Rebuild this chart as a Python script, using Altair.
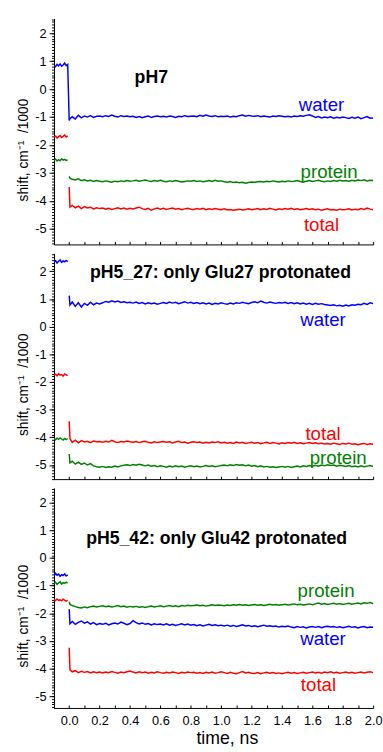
import numpy as np
import pandas as pd
import altair as alt

FONT = "Liberation Sans"

SPECIES = ["water", "protein", "total"]
COLORS = ["#0000ff", "#008000", "#ff0000"]

# sampling times (ns): before the pulse, then t=0 (first post value) and afterwards
PRE_T = np.round(np.linspace(-0.10, -0.01, 10), 3)
POST_T = np.concatenate([[0.0, 0.005], np.round(np.arange(1, 101) * 0.02, 3)])

# ---------------- pH7 ----------------
PH7_WATER_PRE = [0.84, 0.80, 0.88, 0.83, 0.90, 0.82, 0.86, 0.93, 0.84, 0.88]
PH7_WATER_POST = [
    -1.12,
    -1.06, -0.99, -1.07, -0.94, -1.03, -0.96, -1.00, -0.95, -1.01, -0.97, -0.96,
    -0.99, -0.95, -0.98, -0.93, -0.97, -1.00, -0.95, -0.98, -0.96, -0.99,
    -0.97, -1.01, -0.98, -1.02, -0.99, -0.96, -1.01, -0.98, -0.96, -0.99,
    -0.97, -1.00, -0.96, -0.98, -1.01, -0.97, -0.99, -0.95, -0.98, -0.97,
    -0.96, -0.99, -0.94, -0.97, -0.93, -0.96, -0.98, -0.95, -0.99, -0.97,
    -0.98, -0.96, -1.00, -0.97, -0.99, -0.95, -0.93, -0.97, -0.94, -0.96,
    -0.97, -0.95, -0.99, -0.96, -0.98, -1.00, -0.96, -0.98, -0.95, -0.97,
    -0.99, -0.97, -1.00, -0.96, -0.98, -0.95, -0.97, -0.94, -0.92, -0.96,
    -1.01, -0.98, -1.03, -1.00, -1.02, -0.99, -1.04, -1.01, -1.03, -1.00,
    -1.02, -1.05, -1.01, -1.04, -1.00, -1.06, -1.02, -0.98, -1.04, -1.03,
]
PH7_PROTEIN_PRE = [-2.55, -2.50, -2.57, -2.52, -2.56, -2.49, -2.54, -2.51, -2.55, -2.53]
PH7_PROTEIN_POST = [
    -3.12,
    -3.18, -3.22, -3.25, -3.21, -3.27, -3.24, -3.28, -3.26, -3.30, -3.27, -3.29,
    -3.31, -3.28, -3.30, -3.33, -3.29, -3.31, -3.28, -3.30, -3.27, -3.29,
    -3.28, -3.26, -3.29, -3.27, -3.25, -3.28, -3.30, -3.27, -3.29, -3.26,
    -3.29, -3.31, -3.28, -3.30, -3.27, -3.29, -3.32, -3.30, -3.28, -3.29,
    -3.27, -3.30, -3.28, -3.31, -3.29, -3.27, -3.30, -3.26, -3.29, -3.28,
    -3.31, -3.33, -3.30, -3.34, -3.32, -3.35, -3.33, -3.36, -3.34, -3.32,
    -3.33, -3.31, -3.30, -3.32, -3.29, -3.31, -3.28, -3.30, -3.32, -3.29,
    -3.31, -3.28, -3.30, -3.29, -3.27, -3.30, -3.33, -3.29, -3.27, -3.30,
    -3.28, -3.26, -3.29, -3.31, -3.28, -3.30, -3.27, -3.29, -3.26, -3.28,
    -3.27, -3.29, -3.26, -3.28, -3.25, -3.27, -3.24, -3.28, -3.26, -3.27,
]
PH7_TOTAL_PRE = [-1.72, -1.68, -1.75, -1.70, -1.66, -1.73, -1.69, -1.64, -1.71, -1.67]
PH7_TOTAL_POST = [
    -3.50,
    -4.22, -4.16, -4.24, -4.18, -4.27, -4.20, -4.25, -4.22, -4.28, -4.24, -4.27,
    -4.25, -4.29, -4.26, -4.30, -4.27, -4.24, -4.28, -4.25, -4.29, -4.26,
    -4.28, -4.25, -4.22, -4.27, -4.30, -4.26, -4.33, -4.28, -4.25, -4.29,
    -4.26, -4.30, -4.27, -4.25, -4.29, -4.27, -4.31, -4.28, -4.26, -4.29,
    -4.30, -4.27, -4.29, -4.26, -4.31, -4.28, -4.30, -4.27, -4.29, -4.31,
    -4.28, -4.32, -4.30, -4.33, -4.31, -4.29, -4.32, -4.30, -4.28, -4.31,
    -4.29, -4.27, -4.31, -4.28, -4.30, -4.26, -4.29, -4.32, -4.28, -4.30,
    -4.27, -4.29, -4.26, -4.30, -4.28, -4.31, -4.29, -4.27, -4.30, -4.28,
    -4.31, -4.29, -4.33, -4.30, -4.28, -4.32, -4.30, -4.33, -4.29, -4.31,
    -4.30, -4.28, -4.32, -4.29, -4.31, -4.27, -4.30, -4.25, -4.29, -4.31,
]

# ---------------- pH5_27 ----------------
PH527_WATER_PRE = [2.33, 2.38, 2.30, 2.36, 2.41, 2.32, 2.37, 2.34, 2.39, 2.35]
PH527_WATER_POST = [
    1.12,
    0.78, 0.89, 0.73, 0.86, 0.71, 0.84, 0.77, 0.88, 0.79, 0.85, 0.82,
    0.86, 0.91, 0.88, 0.93, 0.89, 0.92, 0.87, 0.90, 0.86, 0.88,
    0.85, 0.89, 0.84, 0.87, 0.82, 0.86, 0.83, 0.85, 0.81, 0.84,
    0.87, 0.84, 0.89, 0.85, 0.88, 0.83, 0.86, 0.90, 0.85, 0.88,
    0.84, 0.87, 0.83, 0.86, 0.82, 0.85, 0.80, 0.84, 0.82, 0.86,
    0.83, 0.81, 0.85, 0.82, 0.86, 0.84, 0.88, 0.85, 0.83, 0.87,
    0.90, 0.86, 0.92, 0.88, 0.85, 0.89, 0.86, 0.84, 0.87, 0.85,
    0.88, 0.84, 0.87, 0.83, 0.86, 0.82, 0.85, 0.81, 0.84, 0.80,
    0.84, 0.81, 0.83, 0.80, 0.78, 0.76, 0.79, 0.75, 0.77, 0.74,
    0.78, 0.75, 0.79, 0.77, 0.81, 0.79, 0.84, 0.80, 0.86, 0.83,
]
PH527_PROTEIN_PRE = [-4.05, -4.09, -4.03, -4.07, -4.02, -4.06, -4.10, -4.04, -4.08, -4.05]
PH527_PROTEIN_POST = [
    -4.60,
    -4.92, -4.86, -4.97, -4.90, -4.98, -4.93, -5.00, -4.95, -5.03, -5.06, -5.08,
    -5.05, -5.09, -5.06, -5.08, -5.04, -5.07, -5.03, -5.01, -4.99, -5.02,
    -4.98, -5.01, -4.97, -5.00, -5.03, -5.00, -5.04, -5.02, -5.06, -5.03,
    -5.05, -5.08, -5.04, -5.07, -5.03, -5.06, -5.04, -5.08, -5.05, -5.03,
    -5.06, -5.04, -5.07, -5.05, -5.02, -5.05, -5.03, -5.06, -5.04, -5.02,
    -5.00, -5.03, -4.99, -5.02, -4.98, -5.01, -4.99, -5.03, -5.00, -5.04,
    -5.02, -5.06, -5.03, -5.07, -5.05, -5.08, -5.06, -5.09, -5.07, -5.05,
    -5.08, -5.05, -5.09, -5.06, -5.04, -5.07, -5.03, -5.05, -5.02, -5.04,
    -5.01, -5.04, -5.00, -5.03, -4.99, -5.02, -5.00, -5.04, -5.01, -5.03,
    -5.05, -5.02, -5.06, -5.04, -5.07, -5.03, -5.06, -5.04, -5.02, -5.05,
]
PH527_TOTAL_PRE = [-1.76, -1.72, -1.78, -1.70, -1.75, -1.73, -1.79, -1.71, -1.74, -1.77]
PH527_TOTAL_POST = [
    -3.42,
    -4.05, -4.18, -4.10, -4.20, -4.12, -4.17, -4.14, -4.19, -4.13, -4.16, -4.15,
    -4.18, -4.14, -4.17, -4.11, -4.16, -4.19, -4.15, -4.17, -4.13, -4.16,
    -4.18, -4.15, -4.19, -4.16, -4.14, -4.18, -4.20, -4.16, -4.19, -4.17,
    -4.15, -4.18, -4.16, -4.20, -4.17, -4.14, -4.19, -4.17, -4.21, -4.18,
    -4.16, -4.19, -4.17, -4.21, -4.18, -4.20, -4.17, -4.19, -4.16, -4.20,
    -4.18, -4.21, -4.19, -4.22, -4.17, -4.20, -4.18, -4.22, -4.20, -4.18,
    -4.21, -4.19, -4.23, -4.20, -4.18, -4.22, -4.19, -4.21, -4.24, -4.20,
    -4.22, -4.19, -4.21, -4.18, -4.22, -4.20, -4.23, -4.21, -4.19, -4.22,
    -4.20, -4.23, -4.21, -4.24, -4.22, -4.25, -4.21, -4.23, -4.26, -4.22,
    -4.24, -4.21, -4.25, -4.23, -4.27, -4.24, -4.22, -4.26, -4.23, -4.25,
]

# ---------------- pH5_42 ----------------
PH542_WATER_PRE = [-0.64, -0.55, -0.62, -0.58, -0.66, -0.60, -0.63, -0.57, -0.65, -0.61]
PH542_WATER_POST = [
    -1.85,
    -2.38, -2.30, -2.40, -2.33, -2.28, -2.36, -2.31, -2.39, -2.34, -2.41, -2.37,
    -2.40, -2.36, -2.42, -2.38, -2.35, -2.39, -2.32, -2.36, -2.41, -2.37,
    -2.27, -2.34, -2.39, -2.35, -2.40, -2.37, -2.42, -2.38, -2.41, -2.39,
    -2.42, -2.38, -2.43, -2.40, -2.44, -2.41, -2.38, -2.42, -2.39, -2.43,
    -2.41, -2.45, -2.42, -2.46, -2.43, -2.40, -2.44, -2.42, -2.45, -2.43,
    -2.46, -2.43, -2.47, -2.44, -2.48, -2.45, -2.42, -2.46, -2.44, -2.48,
    -2.45, -2.49, -2.46, -2.43, -2.47, -2.45, -2.48, -2.46, -2.50, -2.47,
    -2.49, -2.46, -2.50, -2.52, -2.48, -2.51, -2.49, -2.53, -2.50, -2.48,
    -2.51, -2.48, -2.52, -2.49, -2.47, -2.50, -2.48, -2.51, -2.49, -2.52,
    -2.50, -2.47, -2.51, -2.49, -2.53, -2.50, -2.48, -2.52, -2.50, -2.51,
]
PH542_PROTEIN_PRE = [-0.93, -0.88, -0.95, -0.90, -0.86, -0.94, -0.89, -0.92, -0.87, -0.91]
PH542_PROTEIN_POST = [
    -1.58,
    -1.68, -1.72, -1.76, -1.79, -1.81, -1.77, -1.80, -1.76, -1.74, -1.77, -1.75,
    -1.73, -1.76, -1.74, -1.77, -1.75, -1.72, -1.76, -1.74, -1.78, -1.75,
    -1.77, -1.75, -1.78, -1.76, -1.79, -1.76, -1.74, -1.77, -1.75, -1.73,
    -1.76, -1.74, -1.72, -1.75, -1.73, -1.76, -1.72, -1.74, -1.71, -1.73,
    -1.72, -1.70, -1.73, -1.71, -1.74, -1.72, -1.69, -1.72, -1.70, -1.71,
    -1.73, -1.70, -1.72, -1.69, -1.71, -1.68, -1.71, -1.69, -1.72, -1.70,
    -1.68, -1.71, -1.69, -1.72, -1.70, -1.67, -1.70, -1.68, -1.71, -1.69,
    -1.67, -1.70, -1.68, -1.66, -1.69, -1.67, -1.70, -1.68, -1.66, -1.69,
    -1.66, -1.63, -1.67, -1.65, -1.68, -1.66, -1.64, -1.67, -1.65, -1.68,
    -1.66, -1.64, -1.67, -1.65, -1.63, -1.66, -1.62, -1.64, -1.61, -1.65,
]
PH542_TOTAL_PRE = [-1.50, -1.54, -1.48, -1.53, -1.51, -1.55, -1.49, -1.52, -1.56, -1.52]
PH542_TOTAL_POST = [
    -3.25,
    -4.05, -4.12, -4.08, -4.15, -4.10, -4.14, -4.11, -4.16, -4.12, -4.15, -4.13,
    -4.16, -4.13, -4.15, -4.11, -4.14, -4.17, -4.13, -4.15, -4.12, -4.09,
    -4.13, -4.16, -4.12, -4.15, -4.13, -4.17, -4.14, -4.16, -4.12, -4.15,
    -4.17, -4.14, -4.16, -4.13, -4.15, -4.18, -4.14, -4.16, -4.13, -4.15,
    -4.14, -4.17, -4.15, -4.18, -4.14, -4.16, -4.13, -4.17, -4.15, -4.12,
    -4.15, -4.18, -4.14, -4.17, -4.19, -4.15, -4.11, -4.16, -4.14, -4.17,
    -4.18, -4.15, -4.19, -4.16, -4.14, -4.17, -4.15, -4.18, -4.16, -4.19,
    -4.16, -4.14, -4.17, -4.15, -4.18, -4.16, -4.14, -4.17, -4.15, -4.13,
    -4.16, -4.14, -4.17, -4.13, -4.15, -4.12, -4.16, -4.14, -4.17, -4.15,
    -4.13, -4.16, -4.14, -4.17, -4.15, -4.13, -4.16, -4.14, -4.12, -4.15,
]

# curve labels (time, shift) per panel, in SPECIES order
PH7_LABEL_T = [1.66, 1.71, 1.66]
PH7_LABEL_V = [-0.57, -2.95, -4.85]
PH527_LABEL_T = [1.67, 1.77, 1.67]
PH527_LABEL_V = [0.25, -4.75, -3.87]
PH542_LABEL_T = [1.67, 1.69, 1.64]
PH542_LABEL_V = [-2.95, -1.19, -4.60]

PANEL_TITLES = ["pH7", "pH5_27: only Glu27 protonated", "pH5_42: only Glu42 protonated"]
PANEL_TITLE_T = [0.54, 0.995, 0.97]
PANEL_TITLE_V = [0.38, 1.92, 0.67]

# per-panel shift range and panel height
Y_DOMAINS = [[-5.55, 2.52], [-5.51, 2.65], [-5.43, 2.54]]
HEIGHTS = [230, 230, 224]

# the pH7 water trace is continuous across t = 0
CONTINUOUS = {("pH7", "water")}

X_TICKS = [round(-0.1 + 0.1 * i, 1) for i in range(22)]
X_LABELS = [round(0.2 * i, 1) for i in range(11)]
Y_MAJOR = list(range(-5, 3))
Y_MINOR_ALL = [round(-5.5 + 0.1 * i, 1) for i in range(82)]
X_DOMAIN = [-0.1, 2.0]

W = 325


def traces(name, series):
    rows = []
    for sp, (pre, post) in zip(SPECIES, series):
        joined = (name, sp) in CONTINUOUS
        for t, v in zip(PRE_T, pre):
            rows.append({"t": float(t), "v": v, "species": sp,
                         "seg": sp + ("-b" if joined else "-a")})
        for t, v in zip(POST_T, post):
            rows.append({"t": float(t), "v": v, "species": sp, "seg": sp + "-b"})
    return pd.DataFrame(rows)


color = alt.Color("species:N", scale=alt.Scale(domain=SPECIES, range=COLORS), legend=None)
x_scale = alt.Scale(domain=X_DOMAIN, nice=False, zero=False)


def panel(idx, name, series, lab_t, lab_v, last):
    df = traces(name, series)
    h = HEIGHTS[idx]
    lo, hi = Y_DOMAINS[idx]
    y_scale = alt.Scale(domain=[lo, hi], nice=False, zero=False)
    y_minor_vals = [v for v in Y_MINOR_ALL if lo <= v <= hi]

    # main axes: bottom time axis and left shift axis with integer labels
    if last:
        x_main = alt.X("t:Q", scale=x_scale, title="time, ns", axis=alt.Axis(
            values=X_LABELS, format=".1f", tickSize=0, labelFontSize=13,
            labelPadding=7, labelOverlap=False, labelFlush=False,
            titleFontSize=18, titlePadding=2, titleX=176))
    else:
        x_main = alt.X("t:Q", scale=x_scale, title=None, axis=alt.Axis(
            values=X_LABELS, tickSize=0, labels=False))
    y_main = alt.Y("v:Q", scale=y_scale, title="shift, cm\u207b\u00b9\u00a0\u00a0/1000",
                   axis=alt.Axis(values=Y_MAJOR, tickSize=5, labelFontSize=13,
                                 labelPadding=3, labelExpr="'' + datum.value",
                                 labelOverlap=False, labelFlush=False,
                                 titleFontSize=14, titlePadding=4, titleY=h * 0.58))

    lines = alt.Chart(df).mark_line(strokeWidth=1.5, clip=True).encode(
        x=x_main, y=y_main, color=color, detail="seg:N"
    )

    # minor ticks: inward ticks on the time axis, short ticks on the shift axis
    x_minor = alt.X("t:Q", scale=x_scale, title=None, axis=alt.Axis(
        orient="top", offset=-h, values=X_TICKS, tickSize=3, labels=False, domain=False))
    y_minor = alt.Y("v:Q", scale=y_scale, title=None, axis=alt.Axis(
        orient="left", values=y_minor_vals, tickSize=2.5, labels=False, domain=False))

    lab_df = pd.DataFrame({"t": lab_t, "v": lab_v, "species": SPECIES})
    labels = alt.Chart(lab_df).mark_text(fontSize=19, font=FONT).encode(
        x=x_minor, y=y_minor, text="species:N", color=color
    )

    title_df = pd.DataFrame({"t": [PANEL_TITLE_T[idx]], "v": [PANEL_TITLE_V[idx]],
                             "label": [PANEL_TITLES[idx]]})
    title = alt.Chart(title_df).mark_text(fontSize=18, fontWeight="bold", font=FONT,
                                          color="black").encode(
        x=alt.X("t:Q", scale=x_scale, axis=None),
        y=alt.Y("v:Q", scale=y_scale, axis=None),
        text="label:N",
    )
    return (
        alt.layer(lines, labels, title)
        .resolve_scale(x="shared", y="shared")
        .resolve_axis(x="independent", y="independent")
        .properties(width=W, height=h)
    )


p1 = panel(0, "pH7",
           [(PH7_WATER_PRE, PH7_WATER_POST), (PH7_PROTEIN_PRE, PH7_PROTEIN_POST),
            (PH7_TOTAL_PRE, PH7_TOTAL_POST)],
           PH7_LABEL_T, PH7_LABEL_V, False)
p2 = panel(1, "pH5_27",
           [(PH527_WATER_PRE, PH527_WATER_POST), (PH527_PROTEIN_PRE, PH527_PROTEIN_POST),
            (PH527_TOTAL_PRE, PH527_TOTAL_POST)],
           PH527_LABEL_T, PH527_LABEL_V, False)
p3 = panel(2, "pH5_42",
           [(PH542_WATER_PRE, PH542_WATER_POST), (PH542_PROTEIN_PRE, PH542_PROTEIN_POST),
            (PH542_TOTAL_PRE, PH542_TOTAL_POST)],
           PH542_LABEL_T, PH542_LABEL_V, True)

chart = (
    alt.vconcat(p1, p2, p3, spacing=8)
    .properties(padding={"left": 17, "top": 12, "right": 0, "bottom": 0}, background="white")
    .configure_view(stroke=None)
    .configure_axis(
        grid=False,
        domainColor="black",
        tickColor="black",
        labelColor="black",
        titleColor="black",
        labelFont=FONT,
        titleFont=FONT,
        titleFontWeight="normal",
    )
)

chart.save("out.html", embed_options={"renderer": "svg", "actions": False})
